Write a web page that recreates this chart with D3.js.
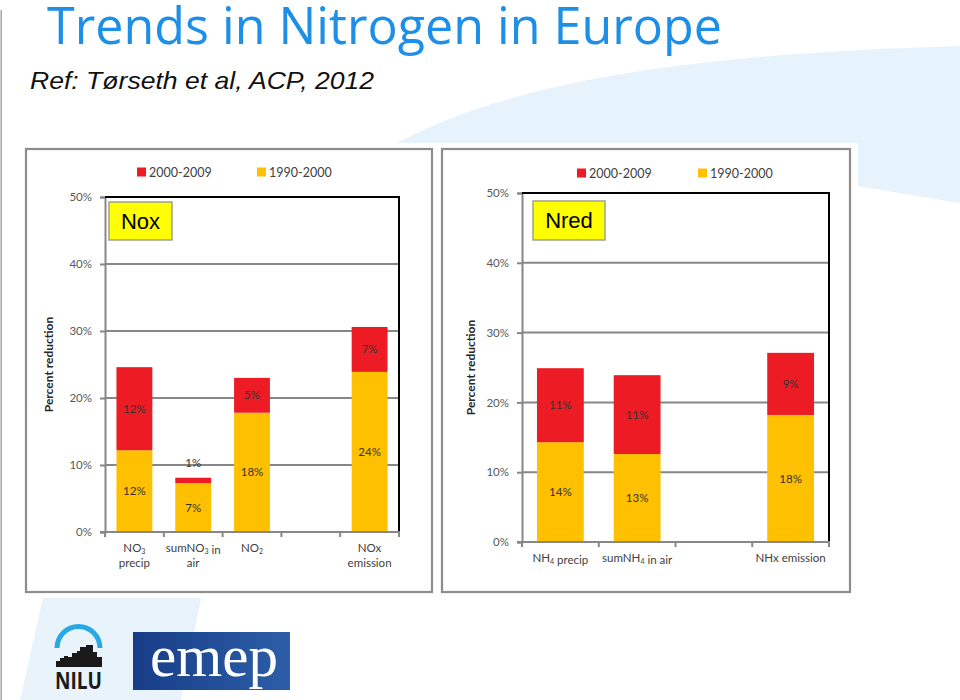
<!DOCTYPE html>
<html>
<head>
<meta charset="utf-8">
<script src="https://cdn.jsdelivr.net/npm/d3@7/dist/d3.min.js"></script>
<style>
  html, body { margin: 0; padding: 0; background: #ffffff; }
  svg { display: block; }
</style>
</head>
<body>
<script>
// ---------------- DATA ----------------
const seriesNames = ["2000-2009", "1990-2000"];

const noxCategories = ["NO3 precip", "sumNO3 in air", "NO2", "(blank)", "NOx emission"];
const noxTickLabels = [["NO_3", "precip"], ["sumNO_3 in", "air"], ["NO_2"], [], ["NOx", "emission"]];
const nox1990_2000 = [12.2, 7.3, 17.8, null, 23.9];
const nox2000_2009 = [12.4, 0.8, 5.2, null, 6.7];
const nox1990_2000Labels = ["12%", "7%", "18%", "", "24%"];
const nox2000_2009Labels = ["12%", "1%", "5%", "", "7%"];

const nredCategories = ["NH4 precip", "sumNH4 in air", "(blank)", "NHx emission"];
const nredTickLabels = [["NH_4 precip"], ["sumNH_4 in air"], [], ["NHx emission"]];
const nred1990_2000 = [14.3, 12.6, null, 18.2];
const nred2000_2009 = [10.6, 11.3, null, 8.9];
const nred1990_2000Labels = ["14%", "13%", "", "18%"];
const nred2000_2009Labels = ["11%", "11%", "", "9%"];

const yTicks = [0, 10, 20, 30, 40, 50];

// ---------------- STYLE ----------------
const RED = "#ed1c24";
const GOLD = "#ffc000";
const GRID = "#878787";
const FONT = "Lato, 'Open Sans', sans-serif";

const svg = d3.select("body").append("svg").attr("width", 960).attr("height", 700);

// background decorations
svg.append("path")
  .attr("d", "M 380,152 C 480,96 620,56 960,46 L 960,203 L 858,186 L 380,160 Z")
  .attr("fill", "#e6f3fc");
svg.append("path")
  .attr("d", "M 43,598 L 201,598 L 181,700 L 20,700 Z")
  .attr("fill", "#e8f3fc");
svg.append("line").attr("x1", 1.2).attr("x2", 1.2).attr("y1", 10).attr("y2", 700)
  .attr("stroke", "#a6a6a6").attr("stroke-width", 1.5);

// title
svg.append("text").attr("x", 47).attr("y", 44)
  .attr("font-family", "'Open Sans', Lato, sans-serif")
  .attr("font-size", 52).attr("fill", "#1d8fe6")
  .attr("textLength", 675).attr("lengthAdjust", "spacingAndGlyphs")
  .text("Trends in Nitrogen in Europe");
svg.append("text").attr("x", 30).attr("y", 89)
  .attr("font-family", "'Liberation Sans', Arial, sans-serif")
  .attr("font-style", "italic")
  .attr("font-size", 24).attr("fill", "#111")
  .attr("textLength", 344).attr("lengthAdjust", "spacingAndGlyphs")
  .text("Ref: Tørseth et al, ACP, 2012");

// white image backing
svg.append("rect").attr("x", 20).attr("y", 143).attr("width", 838).attr("height", 455).attr("fill", "#fff");

function addSubText(sel, str) {
  // "_d" -> subscript digit
  const parts = str.split(/_(\d)/);
  parts.forEach((p, i) => {
    if (p === "") return;
    if (i % 2 === 1) {
      sel.append("tspan").attr("font-size", "7px").attr("dy", 2).text(p);
      sel.append("tspan").attr("dy", -2).text("");
    } else {
      sel.append("tspan").text(p);
    }
  });
}

function drawChart(cfg) {
  const g = svg.append("g");
  // panel
  g.append("rect").attr("x", cfg.panel[0]).attr("y", cfg.panel[1])
    .attr("width", cfg.panel[2]).attr("height", cfg.panel[3])
    .attr("fill", "#fff").attr("stroke", "#8c8c8c").attr("stroke-width", 2.2);

  const x = d3.scaleBand().domain(cfg.categories)
    .range([cfg.left, cfg.right]).paddingInner(0.39).paddingOuter(0.195);
  const y = d3.scaleLinear().domain([0, 50]).range([cfg.bottom, cfg.top]);

  // gridlines
  g.append("g").selectAll("line").data(yTicks.filter(t => t > 0 && t < 50)).join("line")
    .attr("x1", cfg.left).attr("x2", cfg.right)
    .attr("y1", d => y(d)).attr("y2", d => y(d))
    .attr("stroke", GRID).attr("stroke-width", 2);

  // y axis
  const ya = g.append("g").attr("transform", `translate(${cfg.left},0)`)
    .call(d3.axisLeft(y).tickValues(yTicks).tickFormat(d => d + "%").tickSize(5).tickPadding(8));
  ya.select(".domain").attr("stroke", GRID).attr("stroke-width", 2);
  ya.selectAll(".tick line").attr("stroke", GRID).attr("stroke-width", 2);
  ya.selectAll(".tick text").attr("font-family", FONT).attr("font-size", 11.5).attr("fill", "#595959");

  // bars
  const rows = cfg.categories.map((c, i) => ({
    c, a: cfg.older[i], b: cfg.newer[i], la: cfg.olderLabels[i], lb: cfg.newerLabels[i]
  })).filter(d => d.a != null);

  g.append("g").selectAll("rect").data(rows).join("rect")
    .attr("x", d => x(d.c)).attr("width", x.bandwidth())
    .attr("y", d => y(d.a)).attr("height", d => y(0) - y(d.a))
    .attr("fill", GOLD);
  g.append("g").selectAll("rect").data(rows).join("rect")
    .attr("x", d => x(d.c)).attr("width", x.bandwidth())
    .attr("y", d => y(d.a + d.b)).attr("height", d => y(d.a) - y(d.a + d.b))
    .attr("fill", RED);

  // value labels
  const lbl = g.append("g").attr("font-family", FONT).attr("font-size", 11.5)
    .attr("fill", "#333333").attr("text-anchor", "middle");
  lbl.selectAll("text.a").data(rows).join("text").attr("class", "a")
    .attr("x", d => x(d.c) + x.bandwidth() / 2)
    .attr("y", d => (y(0) + y(d.a)) / 2).attr("dy", "0.35em").text(d => d.la);
  lbl.selectAll("text.b").data(rows).join("text").attr("class", "b")
    .attr("x", d => x(d.c) + x.bandwidth() / 2)
    .attr("y", d => {
      const h = y(d.a) - y(d.a + d.b);
      return h < 14 ? y(d.a + d.b) - 15 : (y(d.a) + y(d.a + d.b)) / 2;
    })
    .attr("dy", "0.35em").text(d => d.lb);

  // frame: top & right black
  g.append("line").attr("x1", cfg.left).attr("x2", cfg.right + 1).attr("y1", cfg.top).attr("y2", cfg.top)
    .attr("stroke", "#000").attr("stroke-width", 2);
  g.append("line").attr("x1", cfg.right).attr("x2", cfg.right).attr("y1", cfg.top).attr("y2", cfg.bottom)
    .attr("stroke", "#000").attr("stroke-width", 2);

  // x axis
  g.append("line").attr("x1", cfg.left - 5).attr("x2", cfg.right + 1).attr("y1", cfg.bottom).attr("y2", cfg.bottom)
    .attr("stroke", GRID).attr("stroke-width", 2);
  const bounds = d3.range(cfg.categories.length + 1).map(i => cfg.left + i * x.step());
  g.append("g").selectAll("line").data(bounds).join("line")
    .attr("x1", d => d).attr("x2", d => d)
    .attr("y1", cfg.bottom).attr("y2", cfg.bottom + 5)
    .attr("stroke", GRID).attr("stroke-width", 2);

  // category labels
  const cl = g.append("g").attr("font-family", FONT).attr("font-size", 11.5)
    .attr("fill", "#404040").attr("text-anchor", "middle");
  cfg.categories.forEach((c, i) => {
    cfg.tickLabels[i].forEach((line, j) => {
      const t = cl.append("text").attr("x", x(c) + x.bandwidth() / 2)
        .attr("y", cfg.bottom + 16 + j * 15).attr("dy", "0.35em");
      addSubText(t, line);
    });
  });

  // y title
  g.append("text").attr("transform", `translate(${cfg.yTitleX},${(cfg.top + cfg.bottom) / 2}) rotate(-90)`)
    .attr("text-anchor", "middle").attr("dy", "0.35em")
    .attr("font-family", FONT).attr("font-size", 12).attr("font-weight", "bold").attr("fill", "#262626")
    .text("Percent reduction");

  // legend
  const lg = g.append("g").attr("font-family", FONT).attr("font-size", 12.5).attr("fill", "#404040");
  const legendColors = [RED, GOLD];
  seriesNames.forEach((s, i) => {
    lg.append("rect").attr("x", cfg.legendX[i]).attr("y", cfg.legendY).attr("width", 9).attr("height", 9)
      .attr("fill", legendColors[i]);
    lg.append("text").attr("x", cfg.legendX[i] + 12).attr("y", cfg.legendY + 4.5).attr("dy", "0.36em").text(s);
  });

  // tag box
  g.append("rect").attr("x", cfg.tag[0]).attr("y", cfg.tag[1]).attr("width", cfg.tag[2]).attr("height", cfg.tag[3])
    .attr("fill", "#ffff00").attr("stroke", "#9ea38a").attr("stroke-width", 1.5);
  g.append("text").attr("x", cfg.tag[0] + cfg.tag[2] / 2).attr("y", cfg.tag[1] + cfg.tag[3] / 2)
    .attr("dy", "0.36em").attr("text-anchor", "middle")
    .attr("font-family", "'Liberation Sans', Arial, sans-serif").attr("font-size", 22).attr("fill", "#000")
    .text(cfg.tagText);
}

drawChart({
  panel: [26, 149, 406, 443],
  left: 105, right: 399, top: 197, bottom: 532,
  categories: noxCategories, tickLabels: noxTickLabels,
  older: nox1990_2000, newer: nox2000_2009,
  olderLabels: nox1990_2000Labels, newerLabels: nox2000_2009Labels,
  yTitleX: 49, legendX: [137, 257], legendY: 167.5,
  tag: [109, 202, 63, 38], tagText: "Nox"
});

drawChart({
  panel: [442, 149, 408, 443],
  left: 522, right: 829, top: 193, bottom: 542,
  categories: nredCategories, tickLabels: nredTickLabels,
  older: nred1990_2000, newer: nred2000_2009,
  olderLabels: nred1990_2000Labels, newerLabels: nred2000_2009Labels,
  yTitleX: 471, legendX: [577, 698], legendY: 168.5,
  tag: [533, 201, 72, 39], tagText: "Nred"
});

// ---------------- LOGOS ----------------
// NILU
const nilu = svg.append("g");
nilu.append("path").attr("d", d3.arc()({innerRadius: 19, outerRadius: 24, startAngle: -Math.PI / 2, endAngle: Math.PI / 2}))
  .attr("transform", "translate(78.5,648)").attr("fill", "#29a9e1");
const skyline = [[56, 661, 4], [60, 658, 4], [64, 656, 4], [68, 657, 4], [72, 653, 5], [77, 651, 3], [80, 647, 6], [86, 645, 7], [93, 652, 4], [97, 657, 5]];
nilu.selectAll("rect.b").data(skyline).join("rect").attr("class", "b")
  .attr("x", d => d[0]).attr("y", d => d[1]).attr("width", d => d[2]).attr("height", d => 667 - d[1])
  .attr("fill", "#1a1a1a");
nilu.append("text").attr("x", 55).attr("y", 689)
  .attr("font-family", "'Open Sans', 'Liberation Sans', sans-serif").attr("font-weight", "bold")
  .attr("font-size", 23).attr("fill", "#1a1a1a")
  .attr("textLength", 47).attr("lengthAdjust", "spacingAndGlyphs").text("NILU");

// emep
const defs = svg.append("defs");
const grad = defs.append("linearGradient").attr("id", "emepGrad").attr("x1", "0").attr("x2", "1").attr("y1", "0").attr("y2", "0");
grad.append("stop").attr("offset", "0%").attr("stop-color", "#183d88");
grad.append("stop").attr("offset", "100%").attr("stop-color", "#2d5ea8");
svg.append("rect").attr("x", 133).attr("y", 632).attr("width", 157).attr("height", 58).attr("fill", "url(#emepGrad)");
svg.append("text").attr("x", 150).attr("y", 676)
  .attr("font-family", "'Liberation Serif', 'DejaVu Serif', serif").attr("font-size", 60).attr("fill", "#fff")
  .attr("textLength", 128).attr("lengthAdjust", "spacingAndGlyphs").text("emep");
</script>
</body>
</html>
